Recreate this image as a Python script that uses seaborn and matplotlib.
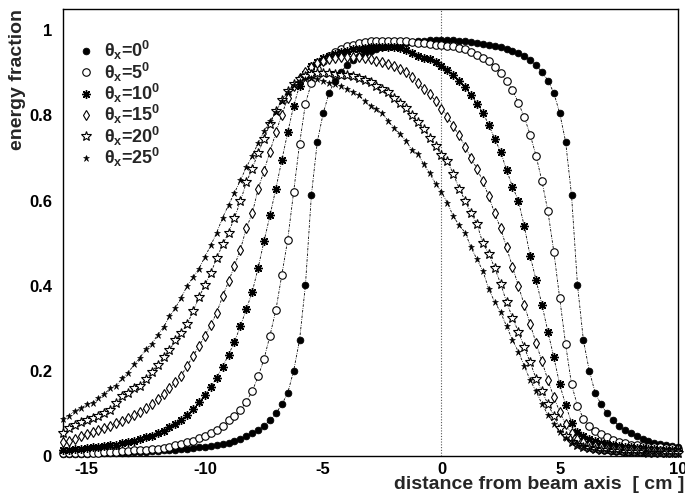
import numpy as np
import pandas as pd
import matplotlib
matplotlib.use("Agg")
import matplotlib.pyplot as plt
from matplotlib.lines import Line2D
from matplotlib.ticker import MultipleLocator
import seaborn as sns

# ---------------- data ----------------
X_CM = [-16.0, -15.75, -15.5, -15.25, -15.0, -14.75, -14.5, -14.25,
        -14.0, -13.75, -13.5, -13.25, -13.0, -12.75, -12.5, -12.25,
        -12.0, -11.75, -11.5, -11.25, -11.0, -10.75, -10.5, -10.25,
        -10.0, -9.75, -9.5, -9.25, -9.0, -8.75, -8.5, -8.25,
        -8.0, -7.75, -7.5, -7.25, -7.0, -6.75, -6.5, -6.25,
        -6.0, -5.75, -5.5, -5.25, -5.0, -4.75, -4.5, -4.25,
        -4.0, -3.75, -3.5, -3.25, -3.0, -2.75, -2.5, -2.25,
        -2.0, -1.75, -1.5, -1.25, -1.0, -0.75, -0.5, -0.25,
        0.0,
        0.25, 0.5, 0.75, 1.0, 1.25, 1.5, 1.75, 2.0,
        2.25, 2.5, 2.75, 3.0, 3.25, 3.5, 3.75, 4.0,
        4.25, 4.5, 4.75, 5.0, 5.25, 5.5, 5.75, 6.0,
        6.25, 6.5, 6.75, 7.0, 7.25, 7.5, 7.75, 8.0,
        8.25, 8.5, 8.75, 9.0, 9.25, 9.5, 9.75, 10.0]

THETA0 = [0.004, 0.004, 0.005, 0.005, 0.005, 0.006, 0.006, 0.006,
          0.007, 0.007, 0.008, 0.008, 0.009, 0.010, 0.010, 0.011,
          0.012, 0.013, 0.014, 0.015, 0.016, 0.017, 0.019, 0.020,
          0.022, 0.024, 0.025, 0.028, 0.031, 0.035, 0.040, 0.046,
          0.053, 0.062, 0.071, 0.084, 0.100, 0.121, 0.148, 0.200,
          0.272, 0.402, 0.612, 0.738, 0.805, 0.853, 0.882, 0.902,
          0.918, 0.930, 0.939, 0.946, 0.952, 0.957, 0.961, 0.964,
          0.966, 0.968, 0.970, 0.972, 0.974, 0.976, 0.977, 0.978,
          0.978,
          0.978, 0.977, 0.976, 0.974, 0.972, 0.970, 0.968, 0.966,
          0.964, 0.961, 0.957, 0.952, 0.946, 0.939, 0.930, 0.918,
          0.902, 0.882, 0.853, 0.805, 0.738, 0.612, 0.402, 0.272,
          0.200, 0.148, 0.121, 0.100, 0.084, 0.071, 0.062, 0.053,
          0.046, 0.040, 0.035, 0.031, 0.028, 0.025, 0.024, 0.022]

THETA5 = [0.006, 0.006, 0.006, 0.007, 0.007, 0.008, 0.008, 0.009,
          0.009, 0.010, 0.011, 0.012, 0.013, 0.014, 0.015, 0.016,
          0.017, 0.019, 0.022, 0.025, 0.028, 0.032, 0.036, 0.042,
          0.048, 0.055, 0.062, 0.070, 0.084, 0.095, 0.108, 0.128,
          0.152, 0.187, 0.228, 0.283, 0.343, 0.425, 0.508, 0.620,
          0.733, 0.828, 0.876, 0.910, 0.928, 0.940, 0.950, 0.957,
          0.962, 0.966, 0.970, 0.972, 0.974, 0.975, 0.976, 0.976,
          0.976, 0.975, 0.974, 0.972, 0.971, 0.970, 0.968, 0.966,
          0.965,
          0.964, 0.962, 0.959, 0.955, 0.949, 0.943, 0.936, 0.927,
          0.913, 0.899, 0.882, 0.860, 0.830, 0.796, 0.755, 0.705,
          0.645, 0.575, 0.480, 0.370, 0.262, 0.168, 0.118, 0.088,
          0.071, 0.059, 0.051, 0.044, 0.038, 0.033, 0.030, 0.027,
          0.025, 0.023, 0.022, 0.021, 0.020, 0.019, 0.018, 0.017]

THETA10 = [0.015, 0.015, 0.016, 0.017, 0.018, 0.020, 0.021, 0.023,
           0.025, 0.027, 0.030, 0.032, 0.036, 0.040, 0.044, 0.048,
           0.053, 0.059, 0.067, 0.076, 0.085, 0.097, 0.110, 0.126,
           0.144, 0.163, 0.184, 0.210, 0.238, 0.268, 0.305, 0.345,
           0.385, 0.442, 0.505, 0.565, 0.628, 0.695, 0.760, 0.822,
           0.870, 0.898, 0.915, 0.926, 0.934, 0.940, 0.945, 0.949,
           0.952, 0.955, 0.957, 0.959, 0.960, 0.961, 0.961, 0.961,
           0.960, 0.958, 0.953, 0.947, 0.940, 0.935, 0.932, 0.925,
           0.915,
           0.906, 0.896, 0.882, 0.866, 0.848, 0.828, 0.806, 0.778,
           0.745, 0.715, 0.672, 0.633, 0.600, 0.540, 0.470, 0.413,
           0.355, 0.292, 0.232, 0.168, 0.120, 0.078, 0.057, 0.046,
           0.040, 0.035, 0.031, 0.028, 0.025, 0.023, 0.021, 0.020,
           0.019, 0.018, 0.017, 0.016, 0.015, 0.015, 0.014, 0.014]

THETA15 = [0.033, 0.036, 0.041, 0.046, 0.051, 0.056, 0.061, 0.065,
           0.071, 0.077, 0.082, 0.089, 0.096, 0.104, 0.112, 0.122,
           0.133, 0.145, 0.159, 0.173, 0.189, 0.212, 0.235, 0.258,
           0.283, 0.308, 0.337, 0.375, 0.410, 0.447, 0.485, 0.535,
           0.570, 0.627, 0.670, 0.715, 0.760, 0.802, 0.840, 0.868,
           0.888, 0.903, 0.914, 0.922, 0.928, 0.932, 0.935, 0.937,
           0.938, 0.938, 0.937, 0.935, 0.932, 0.929, 0.925, 0.921,
           0.916, 0.910, 0.903, 0.890, 0.877, 0.861, 0.850, 0.834,
           0.816,
           0.797, 0.774, 0.753, 0.726, 0.700, 0.675, 0.645, 0.610,
           0.570, 0.535, 0.490, 0.445, 0.400, 0.355, 0.310, 0.265,
           0.222, 0.178, 0.138, 0.104, 0.074, 0.054, 0.040, 0.032,
           0.027, 0.024, 0.021, 0.019, 0.017, 0.016, 0.015, 0.014,
           0.013, 0.012, 0.012, 0.011, 0.011, 0.010, 0.010, 0.010]

THETA20 = [0.053, 0.065, 0.073, 0.079, 0.084, 0.089, 0.095, 0.101,
           0.107, 0.125, 0.140, 0.149, 0.160, 0.165, 0.181, 0.198,
           0.214, 0.232, 0.248, 0.272, 0.290, 0.310, 0.340, 0.373,
           0.402, 0.430, 0.465, 0.497, 0.525, 0.560, 0.598, 0.643,
           0.675, 0.712, 0.745, 0.780, 0.810, 0.837, 0.857, 0.873,
           0.885, 0.893, 0.898, 0.900, 0.900, 0.899, 0.898, 0.896,
           0.894, 0.892, 0.889, 0.884, 0.878, 0.870, 0.862, 0.855,
           0.842, 0.830, 0.818, 0.800, 0.785, 0.768, 0.746, 0.728,
           0.707,
           0.692, 0.663, 0.628, 0.600, 0.570, 0.545, 0.500, 0.475,
           0.442, 0.405, 0.362, 0.325, 0.292, 0.256, 0.220, 0.182,
           0.152, 0.122, 0.094, 0.066, 0.047, 0.034, 0.026, 0.021,
           0.018, 0.016, 0.014, 0.013, 0.012, 0.011, 0.010, 0.010,
           0.009, 0.009, 0.008, 0.008, 0.008, 0.007, 0.007, 0.007]

THETA25 = [0.088, 0.095, 0.106, 0.112, 0.121, 0.125, 0.137, 0.145,
           0.160, 0.165, 0.183, 0.195, 0.215, 0.230, 0.252, 0.262,
           0.285, 0.302, 0.328, 0.348, 0.372, 0.400, 0.420, 0.440,
           0.468, 0.495, 0.525, 0.560, 0.590, 0.618, 0.648, 0.678,
           0.705, 0.735, 0.763, 0.786, 0.808, 0.835, 0.855, 0.872,
           0.882, 0.886, 0.887, 0.885, 0.881, 0.877, 0.875, 0.869,
           0.862, 0.855, 0.847, 0.835, 0.823, 0.814, 0.805, 0.787,
           0.770, 0.757, 0.741, 0.718, 0.710, 0.685, 0.664, 0.640,
           0.620,
           0.595, 0.563, 0.542, 0.525, 0.490, 0.462, 0.435, 0.392,
           0.362, 0.338, 0.305, 0.273, 0.245, 0.212, 0.178, 0.152,
           0.122, 0.097, 0.076, 0.057, 0.043, 0.032, 0.025, 0.020,
           0.017, 0.014, 0.012, 0.011, 0.010, 0.009, 0.008, 0.008,
           0.007, 0.007, 0.006, 0.006, 0.006, 0.005, 0.005, 0.005]

ANGLES = ["0", "5", "10", "15", "20", "25"]
SERIES = [THETA0, THETA5, THETA10, THETA15, THETA20, THETA25]

XTICKS = [-15, -10, -5, 0, 5, 10]
XTICK_LABELS = ["-15", "-10", "-5", "0", "5", "10"]
YTICKS = [0.0, 0.2, 0.4, 0.6, 0.8, 1.0]
YTICK_LABELS = ["0", "0.2", "0.4", "0.6", "0.8", "1"]

for s in SERIES:
    assert len(s) == len(X_CM), (len(s), len(X_CM))

# ---------------- style ----------------
sns.set_style("white")
plt.rcParams["font.family"] = ["Liberation Sans", "DejaVu Sans"]
plt.rcParams["font.weight"] = "bold"
plt.rcParams["mathtext.fontset"] = "custom"
plt.rcParams["mathtext.rm"] = "Liberation Sans:bold"
plt.rcParams["mathtext.bf"] = "Liberation Sans:bold"
plt.rcParams["mathtext.it"] = "Liberation Sans"

STYLES = [
    dict(marker="o", ms=4.8, mfc="black", mec="black", mew=0.6),
    dict(marker="o", ms=5.4, mfc="white", mec="black", mew=0.8),
    dict(marker=(8, 2, 0), ms=6.2, mfc="black", mec="black", mew=1.0),
    dict(marker="d", ms=5.2, mfc="white", mec="black", mew=0.8),
    dict(marker="*", ms=7.2, mfc="white", mec="black", mew=0.8),
    dict(marker="*", ms=5.0, mfc="black", mec="black", mew=0.4),
]

rows = []
for ang, vals in zip(ANGLES, SERIES):
    for xv, yv in zip(X_CM, vals):
        rows.append({"x": xv, "frac": yv, "theta": ang})
df = pd.DataFrame(rows)

fig = plt.figure(figsize=(6.85, 4.98), dpi=100)
ax = fig.add_axes([63 / 685, 1 - 456 / 498, 615 / 685, 447 / 498])

ax.axvline(0, color="#555555", lw=0.8, ls=(0, (1, 1.5)), zorder=1)

handles = []
for ang, st in zip(ANGLES, STYLES):
    sub = df[df["theta"] == ang]
    sns.lineplot(data=sub, x="x", y="frac", ax=ax, color="black", lw=0.6,
                 linestyle=(0, (3, 1.5, 0.8, 1.5)), legend=False,
                 clip_on=False, zorder=3, **st)
    handles.append(Line2D([], [], ls="none", color="black", **st))

labels = [r"$\theta_{\mathbf{x}}$=" + a + r"$^{\mathbf{0}}$" for a in ANGLES]
leg = ax.legend(handles, labels, loc="upper left",
                bbox_to_anchor=(0.022, 0.932), frameon=False,
                fontsize=13, handlelength=1.0, handletextpad=0.5,
                labelspacing=-0.1, borderpad=0.0, borderaxespad=0.0)

ax.set_xlim(-16, 10)
ax.set_ylim(0, 1.05)
ax.set_xticks(XTICKS)
ax.set_xticklabels(XTICK_LABELS)
ax.set_yticks(YTICKS)
ax.set_yticklabels(YTICK_LABELS)
ax.xaxis.set_minor_locator(MultipleLocator(1))
ax.yaxis.set_minor_locator(MultipleLocator(0.05))
ax.tick_params(axis="x", which="major", direction="in", length=7,
               width=0.9, labelsize=12, pad=4.5, colors="black")
ax.tick_params(axis="x", which="minor", direction="in", length=3.5,
               width=0.9)
ax.tick_params(axis="y", which="major", direction="in", length=6,
               width=0.9, labelsize=12, pad=8, colors="black")
ax.tick_params(axis="y", which="minor", direction="in", length=3,
               width=0.9)
for lab in ax.get_xticklabels() + ax.get_yticklabels():
    lab.set_fontweight("bold")
for sp in ax.spines.values():
    sp.set_linewidth(1.0)
    sp.set_color("black")

ax.set_xlabel("distance from beam axis  [ cm ]", fontsize=14,
              fontweight="bold", loc="right")
ax.xaxis.set_label_coords((684 - 63) / 615, -0.045)
ax.set_ylabel("energy fraction", fontsize=14, fontweight="bold", loc="top")
ax.yaxis.set_label_coords(-0.06, 1.0)

fig.savefig("out.png", dpi=100)
